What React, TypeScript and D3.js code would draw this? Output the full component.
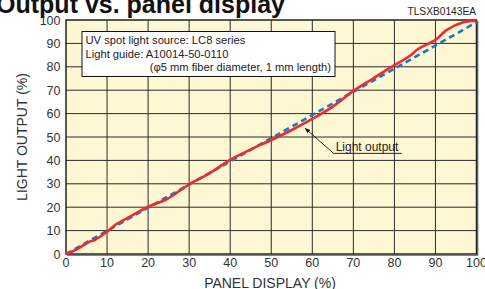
import React, { useEffect, useRef } from 'react'
import * as d3 from 'd3'

// panel display (%) vs light output (%)
const redX = [0, 2.6, 5.8, 7, 10, 12.3, 15.6, 20, 24.5, 30, 34.3, 40, 44.3, 50, 55, 60, 65, 70, 74.8, 79.3, 83.8, 85.7, 90, 92.7, 96.8, 100]
const redY = [0, 2, 5.3, 6, 9.5, 12.8, 16, 20.2, 23.4, 29.8, 33.8, 40.2, 44.1, 48.7, 53, 57.7, 63, 69.7, 75, 80, 84.7, 87.5, 91.5, 95.7, 99, 99.7]
// dashed reference line
const blueX = [0, 100]
const blueY = [0, 99]

const xTicks = [0, 10, 20, 30, 40, 50, 60, 70, 80, 90, 100]
const yTicks = [0, 10, 20, 30, 40, 50, 60, 70, 80, 90, 100]

const infoLines = ['UV spot light source: LC8 series', 'Light guide: A10014-50-0110', '(\u03c65 mm fiber diameter, 1 mm length)']

const W = 485
const H = 289
const margin = { top: 20, right: 8.5, bottom: 35, left: 66 }
const font = 'Arial, "Liberation Sans", Helvetica, sans-serif'

const Chart = () => {
  const ref = useRef<SVGSVGElement>(null)

  useEffect(() => {
    const svg = d3.select(ref.current)
    svg.selectAll('*').remove()

    const bw = W - margin.left - margin.right
    const bh = H - margin.top - margin.bottom

    const x = d3.scaleLinear().domain([0, 100]).range([margin.left, margin.left + bw])
    const y = d3.scaleLinear().domain([0, 100]).range([margin.top + bh, margin.top])

    svg.append('rect')
      .attr('x', x(0)).attr('y', y(100))
      .attr('width', bw).attr('height', bh)
      .attr('fill', '#fdf8d3')

    const grid = svg.append('g').attr('stroke', '#2a2a2a').attr('stroke-width', 1)
    grid.selectAll('line.v').data(xTicks.slice(1, -1)).enter().append('line')
      .attr('x1', d => x(d)).attr('x2', d => x(d))
      .attr('y1', y(0)).attr('y2', y(100))
    grid.selectAll('line.h').data(yTicks.slice(1, -1)).enter().append('line')
      .attr('y1', d => y(d)).attr('y2', d => y(d))
      .attr('x1', x(0)).attr('x2', x(100))

    // plot frame, a bit heavier on right/bottom
    svg.append('rect')
      .attr('x', x(0)).attr('y', y(100))
      .attr('width', bw).attr('height', bh)
      .attr('fill', 'none').attr('stroke', '#222').attr('stroke-width', 1.5)
    svg.append('path')
      .attr('d', `M${x(100) + 1.2},${y(100) + 1}V${y(0) + 1.2}H${x(0) + 1}`)
      .attr('fill', 'none').attr('stroke', '#555').attr('stroke-width', 1.2)

    // info box
    const box = svg.append('g')
    box.append('rect')
      .attr('x', 82).attr('y', 31.5).attr('width', 253).attr('height', 45)
      .attr('fill', '#fff').attr('stroke', '#111').attr('stroke-width', 1)
    box.selectAll('text').data(infoLines).enter().append('text')
      .attr('x', (d, i) => (i < 2 ? 85.5 : 331))
      .attr('y', (d, i) => 44 + i * 13.6)
      .attr('text-anchor', (d, i) => (i < 2 ? 'start' : 'end'))
      .attr('font-family', font).attr('font-size', 11.2).attr('fill', '#222')
      .text(d => d)

    const line = d3.line<number>()
    const blue = d3.line<[number, number]>().x(d => x(d[0])).y(d => y(d[1]))
    svg.append('path')
      .attr('d', blue(blueX.map((v, i) => [v, blueY[i]])))
      .attr('fill', 'none').attr('stroke', '#1b78c2').attr('stroke-width', 2.6)
      .attr('stroke-dasharray', '6,4')

    const red = d3.line<[number, number]>().x(d => x(d[0])).y(d => y(d[1])).curve(d3.curveCatmullRom)
    svg.append('path')
      .attr('d', red(redX.map((v, i) => [v, redY[i]])))
      .attr('fill', 'none').attr('stroke', '#ee2a2e').attr('stroke-width', 2.6)
      .attr('stroke-linejoin', 'round')
    void line

    // annotation
    const tipX = x(58.2)
    const tipY = y(53.8)
    const lx = x(65.2)
    const ly = y(43)
    svg.append('defs').append('marker')
      .attr('id', 'arr').attr('viewBox', '0 0 10 10').attr('refX', 10).attr('refY', 5)
      .attr('markerWidth', 6).attr('markerHeight', 6).attr('orient', 'auto-start-reverse')
      .append('path').attr('d', 'M0,1L10,5L0,9Z').attr('fill', '#111')
    svg.append('line')
      .attr('x1', lx).attr('y1', ly).attr('x2', tipX).attr('y2', tipY)
      .attr('stroke', '#111').attr('stroke-width', 0.9).attr('marker-end', 'url(#arr)')
    svg.append('line')
      .attr('x1', lx).attr('y1', ly).attr('x2', lx + 68).attr('y2', ly)
      .attr('stroke', '#111').attr('stroke-width', 0.9)
    svg.append('text')
      .attr('x', lx + 2).attr('y', ly - 2.5)
      .attr('font-family', font).attr('font-size', 12).attr('fill', '#222')
      .text('Light output')

    // tick labels
    svg.append('g').selectAll('text').data(xTicks).enter().append('text')
      .attr('x', d => x(d)).attr('y', y(0) + 13)
      .attr('text-anchor', 'middle')
      .attr('font-family', font).attr('font-size', 12.5).attr('fill', '#333')
      .text(d => d)
    svg.append('g').selectAll('text').data(yTicks).enter().append('text')
      .attr('x', x(0) - 5.5).attr('y', d => y(d) + 4.5)
      .attr('text-anchor', 'end')
      .attr('font-family', font).attr('font-size', 12.5).attr('fill', '#333')
      .text(d => d)

    svg.append('text')
      .attr('x', 270).attr('y', 287.5).attr('text-anchor', 'middle')
      .attr('font-family', font).attr('font-size', 14).attr('fill', '#333')
      .text('PANEL DISPLAY (%)')
    svg.append('text')
      .attr('transform', `translate(27,${y(50)}) rotate(-90)`)
      .attr('text-anchor', 'middle')
      .attr('font-family', font).attr('font-size', 14).attr('fill', '#333')
      .text('LIGHT OUTPUT (%)')

    svg.append('text')
      .attr('x', 285).attr('y', 12.5).attr('text-anchor', 'end')
      .attr('font-family', font).attr('font-size', 25).attr('font-weight', 'bold').attr('fill', '#111')
      .text('Output vs. panel display')
    svg.append('text')
      .attr('x', 476).attr('y', 15).attr('text-anchor', 'end')
      .attr('font-family', font).attr('font-size', 10.2).attr('fill', '#222')
      .text('TLSXB0143EA')
  }, [])

  return <svg ref={ref} width={W} height={H} style={{ display: 'block' }} />
}

const App = () => {
  return (
    <div style={{ position: 'absolute', left: 0, top: 0, background: '#fff' }}>
      <Chart />
    </div>
  )
}

export default App
